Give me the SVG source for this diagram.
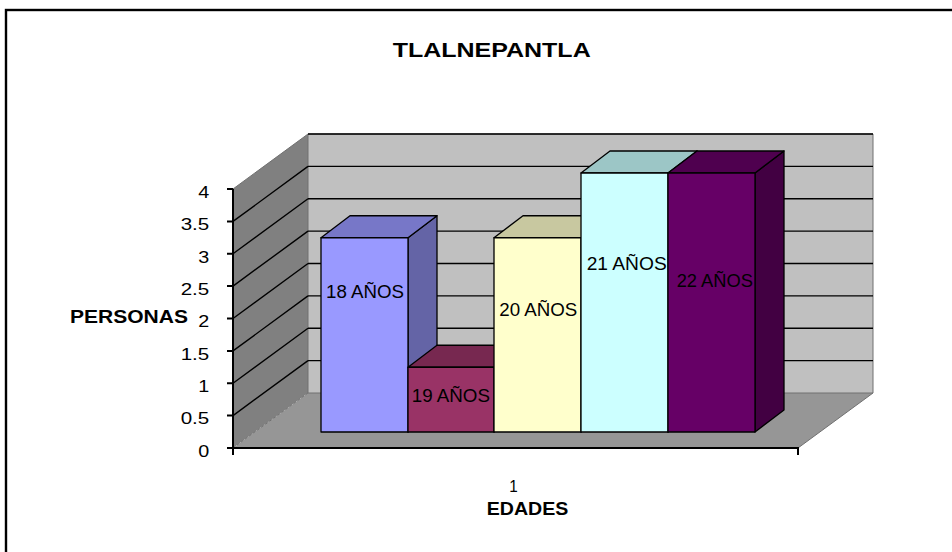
<svg xmlns="http://www.w3.org/2000/svg" width="952" height="552" viewBox="0 0 952 552">
<style>
text{font-family:"Liberation Sans",Arial,sans-serif;fill:#000}
.t{font-size:17px;text-anchor:start}
.lb{font-size:18px}
.b{font-weight:bold}
.grid{stroke:#000;stroke-width:1.4;fill:none}
.bar{stroke:#000;stroke-width:1.3;stroke-linejoin:round}
.edge{stroke:#707070;stroke-width:1;fill:none}
.ax{stroke:#000;stroke-width:2;fill:none}
</style>
<rect x="0" y="0" width="952" height="552" fill="#fff"/>
<rect x="6" y="10" width="960" height="560" fill="#fff" stroke="#000" stroke-width="2.4"/>
<g id="title"><text class="b" x="392.7" y="57.3" font-size="20.5" textLength="198" lengthAdjust="spacingAndGlyphs">TLALNEPANTLA</text></g>
<g id="walls">
<polygon points="308,134 873,134 873,393 308,393" fill="#C0C0C0"/>
<polygon points="233,189 308,134 308,393 233,448" fill="#808080"/>
<polygon points="233,448 308,393 873,393 798,448" fill="#969696"/>
<polyline class="edge" points="233,189 308,134 873,134 873,393 798,448"/>
<line class="edge" x1="308" y1="134" x2="308" y2="393"/>
<line class="edge" x1="308" y1="393" x2="873" y2="393"/>
<line class="edge" x1="233" y1="448" x2="308" y2="393" stroke-dasharray="3,2"/>
</g>
<g id="gridlines">
<path class="grid" d="M308,360.6H873M308,328.25H873M308,295.9H873M308,263.5H873M308,231.1H873M308,198.75H873M308,166.4H873M308,134H873"/>
<path class="grid" d="M233,415.6L308,360.6M233,383.25L308,328.25M233,350.9L308,295.9M233,318.5L308,263.5M233,286.1L308,231.1M233,253.75L308,198.75M233,221.4L308,166.4"/>
</g>
<g id="axes">
<path class="ax" d="M233,189V455M233,448H798V455"/>
<path class="ax" d="M227,189H233M227,221.4H233M227,253.75H233M227,286.1H233M227,318.5H233M227,350.9H233M227,383.25H233M227,415.6H233M227,448H233"/>
<text class="t" x="198.3" y="197.8" textLength="11" lengthAdjust="spacingAndGlyphs">4</text>
<text class="t" x="180.7" y="230.2" textLength="28.6" lengthAdjust="spacingAndGlyphs">3.5</text>
<text class="t" x="198.3" y="262.5" textLength="11" lengthAdjust="spacingAndGlyphs">3</text>
<text class="t" x="180.7" y="294.9" textLength="28.6" lengthAdjust="spacingAndGlyphs">2.5</text>
<text class="t" x="198.3" y="327.3" textLength="11" lengthAdjust="spacingAndGlyphs">2</text>
<text class="t" x="180.7" y="359.7" textLength="28.6" lengthAdjust="spacingAndGlyphs">1.5</text>
<text class="t" x="198.3" y="392.1" textLength="11" lengthAdjust="spacingAndGlyphs">1</text>
<text class="t" x="180.7" y="424.4" textLength="28.6" lengthAdjust="spacingAndGlyphs">0.5</text>
<text class="t" x="198.3" y="456.8" textLength="11" lengthAdjust="spacingAndGlyphs">0</text>
<text class="t" x="509.3" y="491.7" font-size="16" textLength="8.5" lengthAdjust="spacingAndGlyphs">1</text>
</g>
<g id="axis-titles">
<text class="b" x="70" y="322.7" font-size="18.5" textLength="118" lengthAdjust="spacingAndGlyphs">PERSONAS</text>
<text class="b" x="486.7" y="515" font-size="18.5" textLength="81.6" lengthAdjust="spacingAndGlyphs">EDADES</text>
</g>
<g id="bar-18">
<polygon class="bar" points="408,237.75 437,215.75 437,410 408,432" fill="#6464A6"/>
<polygon class="bar" points="321,237.75 350,215.75 437,215.75 408,237.75" fill="#7777C8"/>
<rect class="bar" x="321" y="237.75" width="87" height="194.25" fill="#9999FF"/>
<text class="t lb" x="326" y="298.3" textLength="78" lengthAdjust="spacingAndGlyphs">18 AÑOS</text>
</g>
<g id="bar-19">
<polygon class="bar" points="494,367.25 523,345.25 523,410 494,432" fill="#772850"/>
<polygon class="bar" points="408,367.25 437,345.25 523,345.25 494,367.25" fill="#772850"/>
<rect class="bar" x="408" y="367.25" width="86" height="64.75" fill="#993366"/>
<text class="t lb" x="411.7" y="401.7" textLength="78.3" lengthAdjust="spacingAndGlyphs">19 AÑOS</text>
</g>
<g id="bar-20">
<polygon class="bar" points="581,237.75 610,215.75 610,410 581,432" fill="#A8A888"/>
<polygon class="bar" points="494,237.75 523,215.75 610,215.75 581,237.75" fill="#C8C8A0"/>
<rect class="bar" x="494" y="237.75" width="87" height="194.25" fill="#FFFFCC"/>
<text class="t lb" x="499.3" y="316" textLength="78" lengthAdjust="spacingAndGlyphs">20 AÑOS</text>
</g>
<g id="bar-21">
<polygon class="bar" points="668,173 697,151 697,410 668,432" fill="#88AAAA"/>
<polygon class="bar" points="581,173 610,151 697,151 668,173" fill="#9CC6C6"/>
<rect class="bar" x="581" y="173" width="87" height="259" fill="#CCFFFF"/>
<text class="t lb" x="586.7" y="270" textLength="80" lengthAdjust="spacingAndGlyphs">21 AÑOS</text>
</g>
<g id="bar-22">
<polygon class="bar" points="755,173 784,151 784,410 755,432" fill="#420042"/>
<polygon class="bar" points="668,173 697,151 784,151 755,173" fill="#4F004F"/>
<rect class="bar" x="668" y="173" width="87" height="259" fill="#660066"/>
<text class="t lb" x="676.7" y="286.7" textLength="76.3" lengthAdjust="spacingAndGlyphs">22 AÑOS</text>
</g>
</svg>
